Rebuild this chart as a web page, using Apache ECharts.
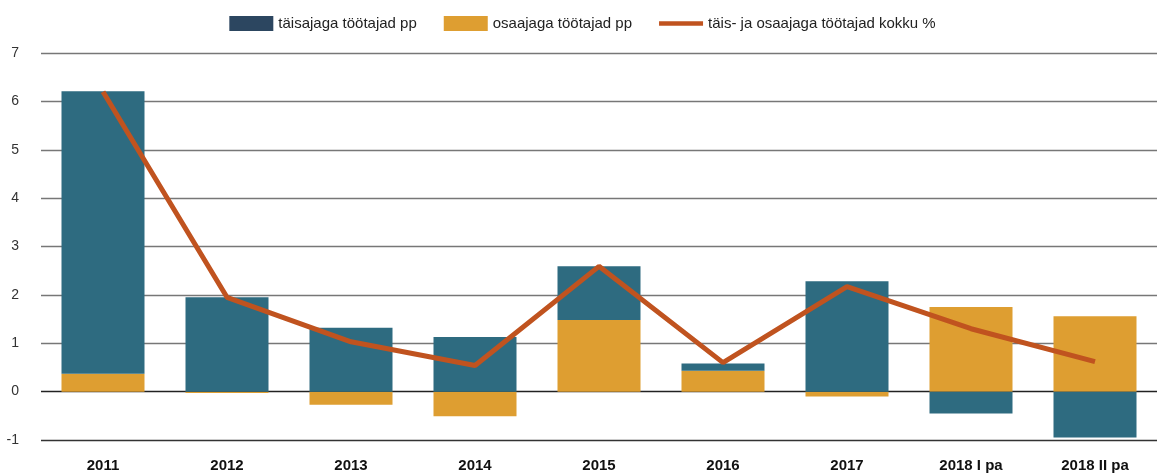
<!DOCTYPE html>
<html>
<head>
<meta charset="utf-8">
<script src="https://cdn.jsdelivr.net/npm/echarts@6/dist/echarts.min.js"></script>
<style>
	html, body { margin: 0; padding: 0; background: #fff; }
	#chart { width: 1165px; height: 473px; }
</style>
</head>
<body>
<div id="chart"></div>
<script>
const categories = ['2011', '2012', '2013', '2014', '2015', '2016', '2017', '2018 I pa', '2018 II pa'];
const fullTime = [5.84, 1.95, 1.32, 1.13, 1.11, 0.15, 2.28, -0.45, -0.95];
const partTime = [0.37, -0.03, -0.27, -0.51, 1.48, 0.43, -0.1, 1.75, 1.56];
const totalPct = [6.2, 1.95, 1.03, 0.54, 2.59, 0.6, 2.17, 1.3, 0.62];

const names = ['täisajaga töötajad pp', 'osaajaga töötajad pp', 'täis- ja osaajaga töötajad kokku %'];
const font = '"Liberation Sans", Arial, sans-serif';

// -1 ja 0 jooned tumedamad
const splitColors = ['#333', '#222', '#777', '#777', '#777', '#777', '#777', '#777', '#777'];

const chart = echarts.init(document.getElementById('chart'));
chart.setOption({
	animation: false,
	textStyle: { fontFamily: font },
	grid: {
		top: 53,
		left: 41,
		right: 8,
		bottom: 33,
	},
	legend: {
		top: 11,
		left: 'center',
		itemWidth: 44,
		itemHeight: 15,
		itemGap: 27,
		textStyle: { fontSize: 15, color: '#222', fontFamily: font },
		data: [
			{ name: names[0], icon: 'rect', itemStyle: { color: '#2c4660' } },
			{ name: names[1], icon: 'rect' },
			{ name: names[2], icon: 'path://M0,0L44,0L44,4.5L0,4.5Z', itemStyle: { color: '#c0531f' } },
		],
	},
	xAxis: {
		type: 'category',
		data: categories,
		axisLine: { show: false },
		axisTick: { show: false },
		axisLabel: {
			margin: 18,
			fontSize: 15,
			fontWeight: 'bold',
			color: '#111',
		},
	},
	yAxis: {
		type: 'value',
		min: -1,
		max: 7,
		interval: 1,
		axisLabel: {
			margin: 22,
			fontSize: 14,
			color: '#333',
		},
		splitLine: {
			show: true,
			lineStyle: {
				color: splitColors,
				width: 1.3,
			},
		},
	},
	series: [
		{
			name: names[1],
			type: 'bar',
			stack: 'tt',
			barWidth: 83,
			data: partTime,
			itemStyle: { color: '#de9e31' },
		},
		{
			name: names[0],
			type: 'bar',
			stack: 'tt',
			barWidth: 83,
			data: fullTime,
			itemStyle: { color: '#2e6b80' },
		},
		{
			name: names[2],
			type: 'line',
			data: totalPct,
			symbol: 'none',
			lineStyle: { color: '#c0531f', width: 5 },
			itemStyle: { color: '#c0531f' },
			z: 5,
		},
	],
});
</script>
</body>
</html>
